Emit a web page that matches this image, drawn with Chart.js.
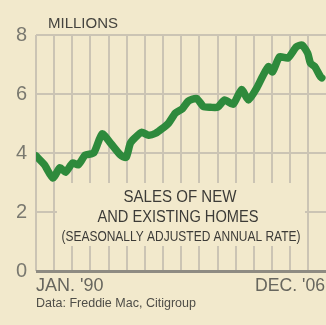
<!DOCTYPE html>
<html>
<head>
<meta charset="utf-8">
<script src="https://cdn.jsdelivr.net/npm/chart.js@4.4.0/dist/chart.umd.min.js"></script>
<style>
    body { margin: 0; background: #f2e9cc; }
    canvas { display: block; }
</style>
</head>
<body>
<canvas id="myChart" width="326" height="325"></canvas>
<script>
// months counted from Jan. 1990 (203 = Dec. 2006)
var months = [0, 6, 12, 17, 21, 26, 30, 35, 41, 47, 53, 60, 64, 67, 70, 75, 80, 85, 90, 94, 99, 104, 108, 114, 119, 124, 129, 134, 140, 146, 151, 157, 161, 165, 168, 173, 179, 185, 189, 193, 195, 198, 202, 203];
// home sales, millions (seasonally adjusted annual rate)
var sales = [3.9, 3.6, 3.15, 3.5, 3.35, 3.66, 3.6, 3.93, 4.0, 4.65, 4.33, 3.93, 3.85, 4.33, 4.5, 4.7, 4.6, 4.67, 4.84, 5.0, 5.35, 5.5, 5.75, 5.85, 5.57, 5.55, 5.55, 5.8, 5.65, 6.15, 5.8, 6.22, 6.6, 6.93, 6.75, 7.26, 7.22, 7.6, 7.66, 7.38, 7.04, 6.93, 6.59, 6.55];
var yTicks = [0, 2, 4, 6, 8];
var xLabels = ["JAN. '90", "DEC. '06"];
var titleLines = ["SALES OF NEW", "AND EXISTING HOMES", "(SEASONALLY ADJUSTED ANNUAL RATE)"];
var unitLabel = "MILLIONS";
var source = "Data: Freddie Mac, Citigroup";

var bg = "#f2e9cc";
var gridColor = "#cbc4b4";

var points = [];
for (var i = 0; i < months.length; i++) {
    points.push({ x: months[i], y: sales[i] });
}

var textPlugin = {
    id: "textPlugin",
    beforeDatasetsDraw: function (chart) {
        // panel behind the title hides the grid
        var ctx = chart.ctx;
        ctx.save();
        ctx.fillStyle = bg;
        ctx.fillRect(57, 183, 248, 63);
        ctx.restore();
    },
    afterDraw: function (chart) {
        var ctx = chart.ctx;
        var area = chart.chartArea;
        ctx.save();
        ctx.fillStyle = "#3c3b37";
        ctx.textAlign = "center";
        ctx.textBaseline = "alphabetic";
        ctx.font = "16px 'Liberation Sans', Arial, sans-serif";
        ctx.fillText(titleLines[0], 180, 202, 113);
        ctx.fillText(titleLines[1], 178, 222, 161);
        ctx.font = "15px 'Liberation Sans', Arial, sans-serif";
        ctx.fillText(titleLines[2], 181, 241, 239);

        ctx.textAlign = "left";
        ctx.fillStyle = "#45443f";
        ctx.font = "15px 'Liberation Sans', Arial, sans-serif";
        ctx.fillText(unitLabel, 48, 28, 70);

        ctx.fillStyle = "#67665e";
        ctx.font = "18px 'Liberation Sans', Arial, sans-serif";
        ctx.fillText(xLabels[0], area.left, 291, 68);
        ctx.textAlign = "right";
        ctx.fillText(xLabels[1], 325, 291, 70);

        ctx.textAlign = "left";
        ctx.fillStyle = "#4f4e48";
        ctx.font = "13px 'Liberation Sans', Arial, sans-serif";
        ctx.fillText(source, area.left, 307, 160);
        ctx.restore();
    }
};

var ctx = document.getElementById("myChart").getContext("2d");
var myChart = new Chart(ctx, {
    type: "line",
    data: {
        datasets: [{
            data: points,
            borderColor: "#2e8a3c",
            borderWidth: 7.5,
            borderJoinStyle: "round",
            borderCapStyle: "round",
            pointRadius: 0,
            tension: 0.2,
            fill: false
        }]
    },
    options: {
        responsive: false,
        animation: false,
        layout: { padding: { top: 35, right: 0, bottom: 54, left: 0 } },
        plugins: {
            legend: { display: false },
            tooltip: { enabled: false }
        },
        scales: {
            x: {
                type: "linear",
                min: 0,
                max: 206,
                afterBuildTicks: function (scale) {
                    var t = [];
                    for (var k = 0; k <= 15; k++) t.push({ value: k * 12.9 });
                    scale.ticks = t;
                },
                afterFit: function (scale) { scale.height = 0; },
                ticks: { display: false },
                border: { display: false },
                grid: { color: gridColor, lineWidth: 2, drawTicks: false }
            },
            y: {
                min: 0,
                max: 8,
                afterBuildTicks: function (scale) {
                    scale.ticks = yTicks.map(function (v) { return { value: v }; });
                },
                afterFit: function (scale) { scale.width = 36; },
                ticks: {
                    padding: 9,
                    color: "#7a7970",
                    font: { family: "'Liberation Sans', Arial, sans-serif", size: 20 }
                },
                border: { display: false },
                grid: {
                    drawTicks: false,
                    color: function (c) { return c.tick && c.tick.value === 0 ? "#8e8b82" : gridColor; },
                    lineWidth: function (c) { return c.tick && c.tick.value === 0 ? 3 : 2; }
                }
            }
        }
    },
    plugins: [textPlugin]
});
</script>
</body>
</html>
